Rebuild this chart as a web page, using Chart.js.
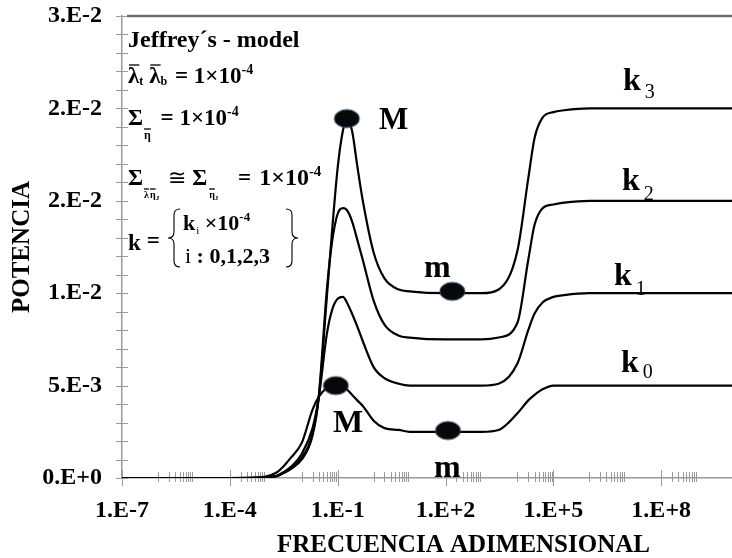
<!DOCTYPE html>
<html>
<head>
<meta charset="utf-8">
<script src="https://cdn.jsdelivr.net/npm/chart.js@4.4.1/dist/chart.umd.min.js"></script>
<style>
  html, body { margin: 0; padding: 0; background: #fff; overflow: hidden; }
  #wrap { width: 732px; height: 558px; overflow: hidden; position: relative; }
  canvas { display: block; }
</style>
</head>
<body>
<div id="wrap"><canvas id="chart" width="816" height="558"></canvas></div>
<script>
// frequency samples shared by the four curves
const freq = [1e-7, 1e-5, 1e-4, 5e-4, 1e-3, 2e-3, 3e-3, 5e-3, 1e-2, 2e-2, 3e-2, 5e-2, 7e-2, 1e-1,
              1.4e-1, 1.8e-1, 2.5e-1, 3.5e-1, 5e-1, 1, 2, 5, 10, 1e2, 1e3, 3e3, 1e4, 2e4, 3e4,
              5e4, 1e5, 2e5, 1e6, 1e8, 1e12];

const k3 = [0, 0, 0, 0, 0.00003, 0.0001, 0.00025, 0.0005, 0.001, 0.0023, 0.0044, 0.0098, 0.0134, 0.0168,
            0.0188, 0.0194, 0.0188, 0.0169, 0.0150, 0.0122, 0.0108, 0.0102, 0.0101, 0.0100, 0.0100, 0.0102,
            0.0123, 0.0162, 0.0184, 0.0195, 0.0198, 0.0199, 0.0200, 0.0200, 0.0200];
const k2 = [0, 0, 0, 0, 0.00003, 0.0001, 0.00026, 0.0005, 0.0011, 0.0024, 0.0045, 0.0102, 0.0128, 0.0143,
            0.0146, 0.0145, 0.0139, 0.0129, 0.0118, 0.0096, 0.0083, 0.0077, 0.0076, 0.0075, 0.0075, 0.0076,
            0.0084, 0.0118, 0.0137, 0.0146, 0.0148, 0.0149, 0.0150, 0.0150, 0.0150];
const k1 = [0, 0, 0, 0, 0.00004, 0.00012, 0.0003, 0.0006, 0.0013, 0.0027, 0.0044, 0.0078, 0.0091, 0.0097,
            0.0098, 0.0095, 0.0089, 0.0082, 0.0074, 0.0060, 0.0054, 0.0051, 0.0050, 0.0050, 0.0050, 0.0051,
            0.0062, 0.0080, 0.0089, 0.0095, 0.0098, 0.0099, 0.0100, 0.0100, 0.0100];
const k0 = [0, 0, 0, 0.00003, 0.00008, 0.0003, 0.0006, 0.0011, 0.0019, 0.0037, 0.0044, 0.0049, 0.0051, 0.0050,
            0.0049, 0.0048, 0.0045, 0.0042, 0.0039, 0.0031, 0.0027, 0.0026, 0.0025, 0.0025, 0.0025, 0.0026,
            0.0035, 0.0042, 0.0045, 0.0048, 0.0050, 0.0050, 0.0050, 0.0050, 0.0050];

// M / m markers (maxima and minima)
const markerFreq = [0.18, 155, 0.089, 117];
const markerPot = [0.01945, 0.0101, 0.0050, 0.00257];

// axis ticks
const xMajorTicks = [1e-7, 1e-4, 1e-1, 1e2, 1e5, 1e8];
const xTickLabels = ['1.E-7', '1.E-4', '1.E-1', '1.E+2', '1.E+5', '1.E+8'];
const xMinorDecades = [1e-6, 1e-4, 1e-2, 1e0, 1e2, 1e4, 1e6, 1e8];
const yTickLabels = ['0.E+0', '5.E-3', '1.E-2', '2.E-2', '2.E-2', '3.E-2'];
const yMajorStep = 0.005;
const yMinorStep = 0.001;

const SERIF = "'Liberation Serif', 'Times New Roman', serif";

function makeDot(w, h) {
    const c = document.createElement('canvas');
    c.width = w + 4;
    c.height = h + 4;
    const g = c.getContext('2d');
    g.beginPath();
    g.ellipse(c.width / 2, c.height / 2, w / 2, h / 2, 0, 0, Math.PI * 2);
    g.fillStyle = '#080808';
    g.fill();
    g.lineWidth = 1;
    g.strokeStyle = '#2d4769';
    g.stroke();
    return c;
}

function put(ctx, s, x, y, size, bold) {
    ctx.font = (bold ? 'bold ' : '') + size + 'px ' + SERIF;
    ctx.fillText(s, x, y);
    return x + ctx.measureText(s).width;
}

function bar(ctx, x1, x2, y) {
    ctx.beginPath();
    ctx.moveTo(x1, y);
    ctx.lineTo(x2, y);
    ctx.stroke();
}

function brace(ctx, x, top, bot, w) {
    const mid = (top + bot) / 2;
    ctx.beginPath();
    ctx.moveTo(x, top);
    ctx.quadraticCurveTo(x - w / 2, top, x - w / 2, top + 6);
    ctx.lineTo(x - w / 2, mid - 6);
    ctx.quadraticCurveTo(x - w / 2, mid, x - w, mid);
    ctx.quadraticCurveTo(x - w / 2, mid, x - w / 2, mid + 6);
    ctx.lineTo(x - w / 2, bot - 6);
    ctx.quadraticCurveTo(x - w / 2, bot, x, bot);
    ctx.stroke();
}

const axisTicks = {
    id: 'axisTicks',
    beforeDatasetsDraw(chart) {
        const {ctx, chartArea: a, scales: {x, y}} = chart;
        ctx.save();
        ctx.strokeStyle = '#9a9a9a';
        ctx.lineWidth = 1;
        ctx.beginPath();
        const n = Math.round(y.max / yMinorStep);
        for (let i = 0; i <= n; i++) {
            const py = Math.round(y.getPixelForValue(i * yMinorStep)) + 0.5;
            ctx.moveTo(a.left - 6, py);
            ctx.lineTo(a.left + 6, py);
        }
        xMajorTicks.forEach(v => {
            const px = Math.round(x.getPixelForValue(v)) + 0.5;
            ctx.moveTo(px, a.bottom - 8);
            ctx.lineTo(px, a.bottom + 8);
        });
        xMinorDecades.forEach(d => {
            for (let k = 1; k <= 9; k++) {
                const px = Math.round(x.getPixelForValue(k * d)) + 0.5;
                ctx.moveTo(px, a.bottom - 6);
                ctx.lineTo(px, a.bottom + 4);
            }
        });
        ctx.stroke();

        // top frame line
        ctx.strokeStyle = '#6e6e6e';
        ctx.lineWidth = 2.5;
        ctx.beginPath();
        ctx.moveTo(a.left + 5, a.top);
        ctx.lineTo(a.right, a.top);
        ctx.stroke();
        ctx.restore();
    },
    afterDraw(chart) {
        const ctx = chart.ctx;
        ctx.save();
        ctx.fillStyle = '#000';
        ctx.strokeStyle = '#000';
        ctx.textAlign = 'left';
        ctx.textBaseline = 'alphabetic';

        // parameter block
        put(ctx, 'Jeffrey´s - model', 128, 47, 24, true);

        ctx.lineWidth = 1.3;
        let x = put(ctx, 'λ', 128, 83, 23, true);
        bar(ctx, 129, x, 65);
        x = put(ctx, 't', x, 85, 12, true);
        let x2 = put(ctx, 'λ', x + 6, 83, 23, true);
        bar(ctx, x + 7, x2, 65);
        x = put(ctx, 'b', x2, 85, 12, true);
        x = put(ctx, ' = 1×10', x + 2, 83, 23, true);
        put(ctx, '-4', x, 74, 14, true);

        x = put(ctx, 'Σ', 128, 125, 23, true);
        x2 = put(ctx, 'η', x + 1, 139, 12, true);
        bar(ctx, x + 1, x2, 129);
        x = put(ctx, ' = 1×10', x2 + 4, 125, 23, true);
        put(ctx, '-4', x, 116, 14, true);

        x = put(ctx, 'Σ', 128, 185, 23, true);
        x2 = put(ctx, 'λ', x + 1, 198, 10, true);
        bar(ctx, x + 1, x2, 189);
        let x3 = put(ctx, 'η', x2 + 1, 198, 10, true);
        bar(ctx, x2 + 1, x3, 189);
        x = put(ctx, 'J', x3, 200, 7, true);
        x = put(ctx, '≅', x + 9, 185, 22, false);
        x = put(ctx, 'Σ', x + 6, 185, 23, true);
        x2 = put(ctx, 'η', x + 2, 198, 10, true);
        bar(ctx, x + 2, x2, 189);
        x = put(ctx, 'J', x2, 200, 7, true);
        x = put(ctx, ' =', x + 14, 185, 23, true);
        x = put(ctx, ' 1×10', x + 2, 185, 24, true);
        put(ctx, '-4', x, 176, 15, true);

        x = put(ctx, 'k', 128, 250, 23, true);
        put(ctx, '=', x + 6, 248, 23, true);
        ctx.lineWidth = 1.1;
        brace(ctx, 180, 209, 267, 12);
        brace(ctx, 286, 209, 267, -12);
        x = put(ctx, 'k', 183, 230, 22, true);
        x = put(ctx, 'i', x + 1, 234, 11, false);
        x = put(ctx, ' ×10', x, 230, 22, true);
        put(ctx, '-4', x, 221, 13, true);
        x = put(ctx, 'i', 185, 263, 22, false);
        put(ctx, ' : 0,1,2,3', x, 263, 22, true);

        // extrema labels
        put(ctx, 'M', 379, 129, 31, true);
        put(ctx, 'm', 424, 277, 32, true);
        put(ctx, 'M', 333, 432, 32, true);
        put(ctx, 'm', 434, 477, 32, true);

        // curve labels
        const kl = [['3', 623, 90, 98], ['2', 622, 190, 200], ['1', 614, 285, 295], ['0', 621, 372, 378]];
        kl.forEach(([s, lx, by, sy]) => {
            const e = put(ctx, 'k', lx, by, 32, true);
            put(ctx, s, e + 4, sy, 20, false);
        });
        ctx.restore();
    }
};

const series = [k0, k1, k2, k3];
const lineSets = series.map(vals => ({
    data: freq.map((f, i) => ({x: f, y: vals[i]})),
    borderColor: '#000',
    borderWidth: 2.2,
    pointRadius: 0,
    fill: false,
    cubicInterpolationMode: 'monotone',
    order: 2
}));

const dot = makeDot(25, 18);
lineSets.push({
    data: markerFreq.map((f, i) => ({x: f, y: markerPot[i]})),
    showLine: false,
    pointStyle: dot,
    pointRadius: 10,
    order: 0
});

new Chart(document.getElementById('chart'), {
    type: 'line',
    data: {datasets: lineSets},
    plugins: [axisTicks],
    options: {
        responsive: false,
        animation: false,
        layout: {padding: {top: 16, right: 0, bottom: 0, left: 0}},
        plugins: {legend: {display: false}, tooltip: {enabled: false}},
        scales: {
            x: {
                type: 'logarithmic',
                min: 1e-7,
                max: 1e12,
                afterBuildTicks: scale => { scale.ticks = xMajorTicks.map(v => ({value: v})); },
                afterFit: scale => { scale.height = 80; },
                grid: {display: false, drawTicks: false},
                border: {display: true, color: '#9a9a9a', width: 1.5},
                ticks: {
                    autoSkip: false,
                    maxRotation: 0,
                    padding: 18,
                    color: '#000',
                    font: {family: SERIF, size: 24, weight: 'bold'},
                    callback: (v, i) => xTickLabels[i]
                },
                title: {
                    display: true,
                    text: 'FRECUENCIA ADIMENSIONAL',
                    color: '#000',
                    padding: {top: 0, bottom: 0},
                    font: {family: SERIF, size: 25, weight: 'bold', lineHeight: 1}
                }
            },
            y: {
                min: 0,
                max: 0.025,
                afterFit: scale => { scale.width = 122; },
                grid: {display: false, drawTicks: true, tickLength: 20},
                border: {display: true, color: '#9a9a9a', width: 1.5},
                ticks: {
                    stepSize: yMajorStep,
                    padding: 0,
                    color: '#000',
                    font: {family: SERIF, size: 24, weight: 'bold', lineHeight: 1},
                    callback: v => yTickLabels[Math.round(v / yMajorStep)]
                },
                title: {
                    display: true,
                    text: 'POTENCIA',
                    color: '#000',
                    padding: {top: 10, bottom: 0},
                    font: {family: SERIF, size: 25, weight: 'bold', lineHeight: 1}
                }
            }
        }
    }
});
</script>
</body>
</html>
